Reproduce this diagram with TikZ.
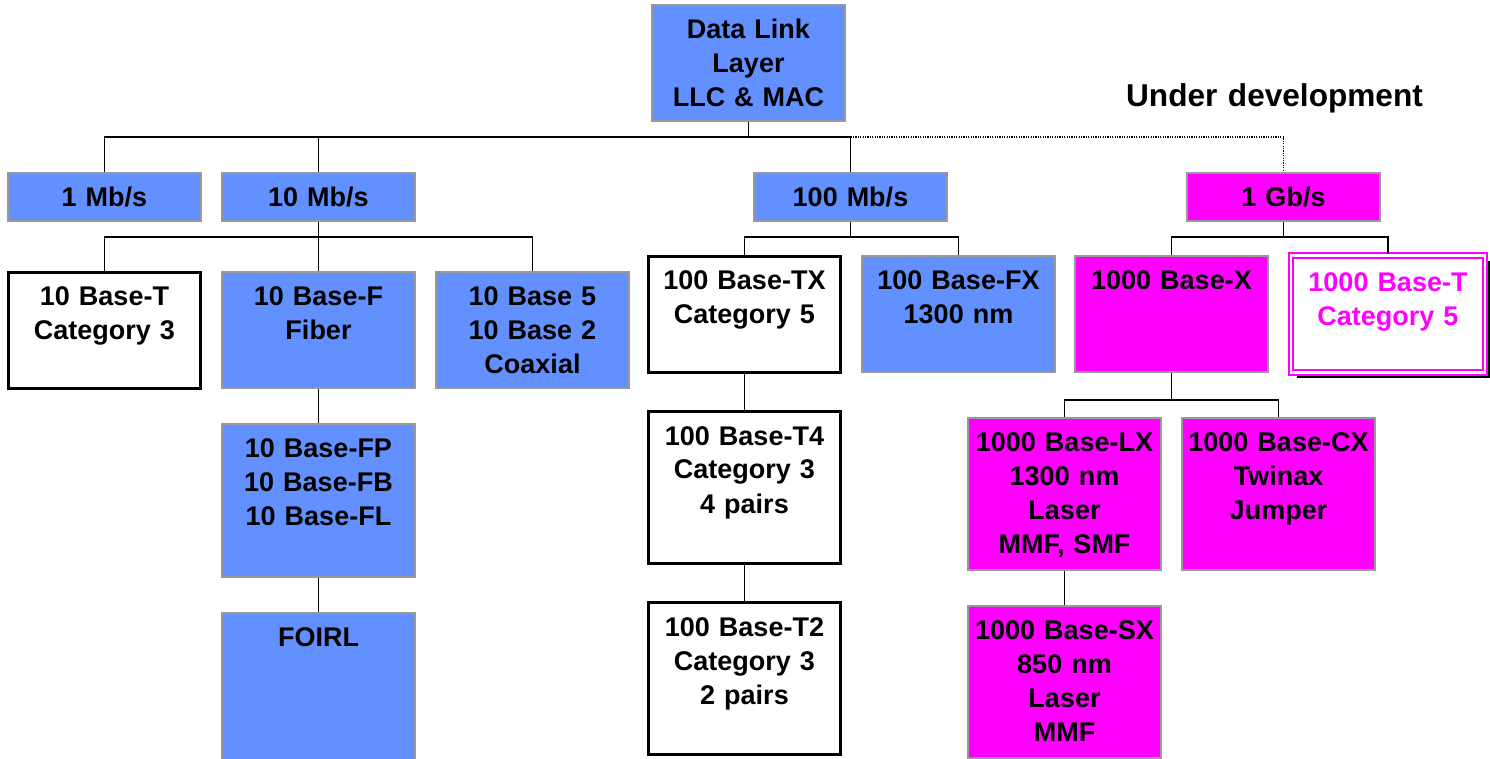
\documentclass[tikz,border=0pt]{standalone}
\usepackage{fontspec}
\setmainfont{Liberation Sans}
\usetikzlibrary{positioning,shadows}
\definecolor{ethblue}{RGB}{98,145,255}
\definecolor{ethpink}{RGB}{255,0,255}

\begin{document}
\begin{tikzpicture}[x=0.5pt, y=-0.5pt, node distance=17pt and 9.5pt,
    every node/.style={font=\fontsize{13.5}{17}\selectfont\bfseries, align=center,
      text width=96.5pt, inner sep=0pt, text height=16.75pt},
    box/.style={draw=gray!80, line width=1pt, fill=ethblue},
    gig/.style={draw=gray!80, line width=1pt, fill=ethpink},
    std/.style={draw=black, line width=1.5pt, fill=white, text width=96pt},
    gbt/.style={draw=ethpink, double=white, double distance=1.2pt, line width=1pt,
      fill=white, text=ethpink, text width=97pt, text height=18.25pt, text depth=40.25pt,
      drop shadow={shadow xshift=2.8pt, shadow yshift=-2.8pt, fill=black, opacity=1}},
    rate/.style={text depth=7.25pt},
    tall/.style={text depth=41.25pt},
    long/.style={text depth=59.25pt},
    link/.style={line width=0.75pt},
    dev/.style={line width=0.75pt, dash pattern=on 0.6pt off 0.6pt}]
    \useasboundingbox (0,0) rectangle (1490,759);

    % top of the tree
    \node[box, tall, anchor=north] (dll) at (748.5,4) {Data Link\\Layer\\LLC \& MAC};
    \node[anchor=base, text width=160pt, font=\fontsize{15.8}{19}\selectfont\bfseries] (undev) at (1274.5,106.5) {Under development};

    % speeds
    \node[box, rate, anchor=north] (r1) at (104.5,172) {1 Mb/s};
    \node[box, rate, right=of r1] (r10) {10 Mb/s};
    \node[box, rate, anchor=north] (r100) at (850.5,172) {100 Mb/s};
    \node[gig, rate, anchor=north] (r1g) at (1283.5,172) {1 Gb/s};

    % 10 Mb/s branch
    \node[std, tall, anchor=north] (t10) at (104.5,271) {10 Base-T\\Category 3};
    \node[box, tall, right=of t10] (f10) {10 Base-F\\Fiber};
    \node[box, tall, right=of f10] (c10) {10 Base 5\\10 Base 2\\Coaxial};
    \node[box, long, below=of f10] (fp10) {10 Base-FP\\10 Base-FB\\10 Base-FL};
    \node[box, text depth=58.25pt, below=of fp10] (foirl) {FOIRL};

    % 100 Mb/s branch
    \node[std, tall, anchor=north] (tx) at (744.5,255) {100 Base-TX\\Category 5};
    \node[box, tall, right=of tx] (fx) {100 Base-FX\\1300 nm};
    \node[std, long, below=18pt of tx] (t4) {100 Base-T4\\Category 3\\4 pairs};
    \node[std, long, below=18pt of t4] (t2) {100 Base-T2\\Category 3\\2 pairs};

    % 1 Gb/s branch
    \node[gig, tall, anchor=north] (gx) at (1171.5,255) {1000 Base-X};
    \node[gbt, right=10.5pt of gx] (gt) {1000 Base-T\\Category 5};
    \node[gig, long, anchor=north] (lx) at (1064.5,417) {1000 Base-LX\\1300 nm\\Laser\\MMF, SMF};
    \node[gig, long, right=of lx] (cx) {1000 Base-CX\\Twinax\\Jumper};
    \node[gig, long, below=of lx] (sx) {1000 Base-SX\\850 nm\\Laser\\MMF};

    % junctions
    \coordinate (top) at (748.5,137);
    \coordinate (j10) at (316.5,237);
    \coordinate (j100) at (850.5,237);
    \coordinate (j1g) at (1283.5,237);
    \coordinate (jx) at (1171.5,400);

    \draw[link] (dll) -- (top);
    \draw[link] (r1) |- (top) -| (r100);
    \draw[link] (r10) -- (r10 |- top);
    \draw[dev] (r100 |- top) -| (r1g);

    \draw[link] (r10) -- (f10);
    \draw[link] (t10) |- (j10) -| (c10);
    \draw[link] (f10) -- (fp10);
    \draw[link] (fp10) -- (foirl);

    \draw[link] (r100) -- (j100);
    \draw[link] (tx) |- (j100) -| (fx);
    \draw[link] (tx) -- (t4);
    \draw[link] (t4) -- (t2);

    \draw[link] (r1g) -- (j1g);
    \draw[link] (gx) |- (j1g) -| (gt);
    \draw[link] (gx) -- (jx);
    \draw[link] (lx) |- (jx) -| (cx);
    \draw[link] (lx) -- (sx);
\end{tikzpicture}
\end{document}
